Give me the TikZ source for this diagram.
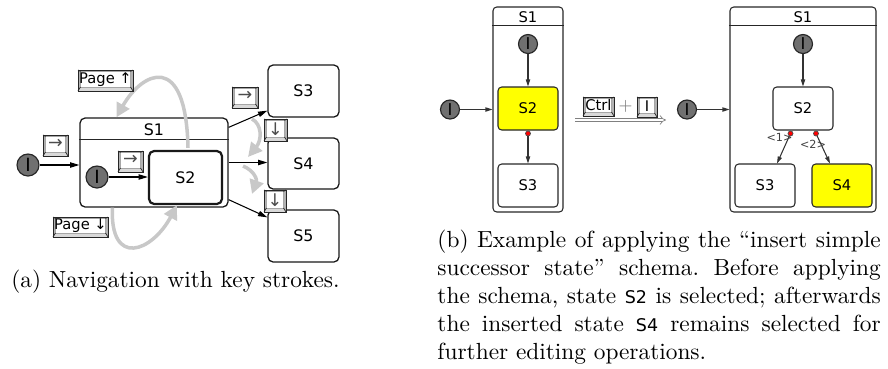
\documentclass[tikz,border=0pt]{standalone}
\usepackage{fontspec}
\newfontfamily\dsans{DejaVu Sans}
\usetikzlibrary{arrows.meta,calc}
\newcommand\uu{0.4286pt}
\definecolor{initgray}{RGB}{112,112,112}
\definecolor{lightarc}{RGB}{200,200,200}
\definecolor{selyellow}{RGB}{255,255,0}

% a key cap: name, left, top, right, bottom, label
\newcommand\keycap[6]{%
  \path[keyrim] (#2,#3) rectangle (#4,#5);
  \path[keybevel] (#2,#5) -- (#4,#5) -- (#4-2.5,#5-4) -- (#2+2.5,#5-4) -- cycle;
  \path[keyface] (#2+2.5,#3+1.5) rectangle (#4-2.5,#5-4);
  \draw[keycorner] (#2,#3) -- (#2+2.5,#3+1.5) (#4,#3) -- (#4-2.5,#3+1.5)
                   (#2,#5) -- (#2+2.5,#5-4) (#4,#5) -- (#4-2.5,#5-4);
  \draw[keyedge] (#2,#3) rectangle (#4,#5);
  \node[keylabel] (#1) at ({(#2+#4)/2},{(#3+#5-2.5)/2}) {#6};
}
% a state box: name, left, top, right, bottom, style, label
\newcommand\stbox[7]{%
  \node[#6, minimum width={(#4-#2)*\uu}, minimum height={(#5-#3)*\uu}, inner sep=0pt]
    (#1) at ({(#2+#4)/2},{(#3+#5)/2}) {#7};
}
\newcommand\arrowglyph[1]{{\dsans\fontsize{7.5}{8}\selectfont\textcolor{gray!60!black}{#1}}}

\tikzset{
  keyrim/.style={fill=gray!60},
  keybevel/.style={fill=gray!30},
  keyface/.style={fill=white, draw=gray!70, line width=0.25pt},
  keycorner/.style={draw=black!85, line width=0.3pt},
  keyedge/.style={draw=black!85, line width=0.35pt},
  keylabel/.style={inner sep=0pt, font=\dsans\fontsize{6.3}{7}\selectfont},
  statea/.style={draw=black!90, rounded corners=2.2pt, line width=0.55pt,
                 font=\dsans\fontsize{6.8}{8}\selectfont},
  stateb/.style={draw=black!85, rounded corners=1.6pt, line width=0.45pt,
                 font=\dsans\fontsize{6.3}{7}\selectfont},
  titleline/.style={draw=black!85, line width=0.45pt},
  lbla/.style={inner sep=0pt, font=\dsans\fontsize{6.8}{8}\selectfont},
  lblb/.style={inner sep=0pt, font=\dsans\fontsize{6.3}{7}\selectfont},
  inita/.style={circle, draw=black!85, fill=initgray, line width=0.5pt, inner sep=0pt,
                minimum size=22*\uu, font=\dsans\fontsize{7.8}{8}\selectfont},
  initb/.style={inita, minimum size=19*\uu, font=\dsans\fontsize{7}{8}\selectfont},
  arra/.style={draw=black, line width=0.45pt, -{Triangle[length=4pt,width=2.3pt]}},
  arrb/.style={draw=black!80, line width=0.45pt, -{Triangle[length=3pt,width=1.8pt]}},
  garr/.style={draw=lightarc, line width=1.5pt, -{Triangle[length=6pt,width=6pt]}},
  prio/.style={circle, fill=red, draw=black!70, line width=0.3pt, inner sep=0pt,
               minimum size=5*\uu},
  priolbl/.style={inner sep=0pt, text=black!75, font=\dsans\fontsize{4.8}{5}\selectfont},
  implies/.style={draw=gray, line width=0.3pt, double, double distance=1.1pt, -{Implies}},
  captxt/.style={inner sep=0pt, anchor=base west},
}

\begin{document}
\begin{tikzpicture}[x=\uu,y=-\uu]
\useasboundingbox (0,0) rectangle (888,368);

% ---------------- (a) navigation ----------------
\stbox{S1a}{80}{118}{228}{207}{statea}{}
\draw[titleline] ($(S1a.north west)+(0,22)$) -- ($(S1a.north east)+(0,22)$);
\node[lbla] (S1aT) at ($(S1a.north)+(0,12.5)$) {S1};
\stbox{S2a}{149}{151}{222}{204}{statea, line width=0.95pt}{S2}
\stbox{S3a}{268}{65}{339}{117}{statea}{S3}
\stbox{S4a}{268}{138}{339}{189}{statea}{S4}
\stbox{S5a}{268}{210}{339}{262}{statea}{S5}

\node[inita] (ia) at (28,165) {I};
\node[inita] (ia2) at (97,177) {I};

\draw[arra] (ia) -- (ia -| S1a.west);
\draw[arra] (ia2) -- (ia2 -| S2a.west);
\draw[arra] ($(S1a.north east)+(0,10)$) -- ($(S3a.south west)+(0,-7)$);
\draw[arra] (S1a.east) -- (S1a.east -| S4a.west);
\draw[arra] ($(S1a.south east)+(0,-8)$) -- ($(S5a.north west)+(0,8)$);

% light arcs for paging and sibling moves
\draw[garr] ($(S2a.north)+(2.5,-2)$) .. controls (186,50) and (142,72) .. ($(S1a.north west)+(37,0)$);
\draw[garr] ($(S1a.south west)+(33,0)$) .. controls (110,268) and (152,252) .. ($(S2a.south)+(-8.5,0)$);
\coordinate (g1s) at (252,119);
\coordinate (g1e) at (248,157);
\coordinate (g2s) at (243,166);
\coordinate (g2e) at (252,194);
\draw[garr] (g1s) .. controls (262,124) and (262,140) .. (g1e);
\draw[garr] (g2s) .. controls (255,171) and (257,180) .. (g2e);

\keycap{kRa}{43}{135}{68}{156}{\arrowglyph{→}}
\keycap{kRb}{118}{151}{143}{172}{\arrowglyph{→}}
\keycap{kRc}{232}{87}{258}{108}{\arrowglyph{→}}
\keycap{kDa}{264}{119}{287}{141}{\arrowglyph{↓}}
\keycap{kDb}{264}{190}{286}{212}{\arrowglyph{↓}}
\keycap{kPu}{78}{70}{133}{91}{Page ↑}
\keycap{kPd}{53}{217}{108}{237}{Page ↓}

\node[inner sep=0pt, anchor=base] (capa) at (175.5,287) {(a) Navigation with key strokes.};

% ---------------- (b) insert successor ----------------
\stbox{S1b}{493}{7}{563}{212}{stateb}{}
\draw[titleline] ($(S1b.north west)+(0,19)$) -- ($(S1b.north east)+(0,19)$);
\node[lblb] (S1bT) at ($(S1b.north)+(0,10.5)$) {S1};
\stbox{S2b}{498}{87}{558}{130}{stateb, fill=selyellow}{S2}
\stbox{S3b}{498}{164}{558}{207}{stateb}{S3}
\node[initb] (ib) at (450,109.5) {I};
\node[initb] (ib2) at (528,44) {I};
\node[prio] (pb) at (528,133.5) {};
\draw[arrb] (ib) -- (S1b.west);
\draw[arrb] (ib2) -- (S2b.north);
\draw[arrb] (pb) -- (S3b.north);

\keycap{kCtrl}{583}{97}{614}{116}{Ctrl}
\node[inner sep=0pt, text=gray] (plus) at (625.5,106) {\fontsize{7}{8}\selectfont$+$};
\keycap{kI}{637}{97}{657}{117}{I}
\coordinate (impS) at (575,120);
\coordinate (impE) at (666,120);
\draw[implies] (impS) -- (impE);

\stbox{S1c}{730}{7}{876}{212}{stateb}{}
\draw[titleline] ($(S1c.north west)+(0,19)$) -- ($(S1c.north east)+(0,19)$);
\node[lblb] (S1cT) at ($(S1c.north)+(0,10.5)$) {S1};
\stbox{S2c}{773}{87}{833}{130}{stateb}{S2}
\stbox{S3c}{735}{164}{795}{207}{stateb}{S3}
\stbox{S4c}{812}{164}{872}{207}{stateb, fill=selyellow}{S4}
\node[initb] (ic) at (687,109.5) {I};
\node[initb] (ic2) at (803,44) {I};
\draw[arrb] (ic) -- (S1c.west);
\draw[arrb] (ic2) -- (S2c.north);
\node[prio] (pc1) at (790.5,133.5) {};
\node[prio] (pc2) at (816,133.5) {};
\draw[arrb] (pc1) -- ($(S3c.north)+(12,0)$);
\draw[arrb] (pc2) -- ($(S4c.north)+(-12,0)$);
\node[priolbl] (l1) at (779.5,137) {<1>};
\node[priolbl] (l2) at (813,144.5) {<2>};

\frenchspacing
\node[captxt] (cb1) at (437,247) {\makebox[190pt][s]{(b) Example of applying the ``insert simple}};
\node[captxt] (cb2) at (437,275) {\makebox[190pt][s]{successor state'' schema. Before applying}};
\node[captxt] (cb3) at (437,303) {\makebox[190pt][s]{the schema, state {\dsans\fontsize{7.5}{9}\selectfont S2} is selected; afterwards}};
\node[captxt] (cb4) at (437,331) {\makebox[190pt][s]{the inserted state {\dsans\fontsize{7.5}{9}\selectfont S4} remains selected for}};
\node[captxt] (cb5) at (437,359) {further editing operations.};
\end{tikzpicture}
\end{document}
